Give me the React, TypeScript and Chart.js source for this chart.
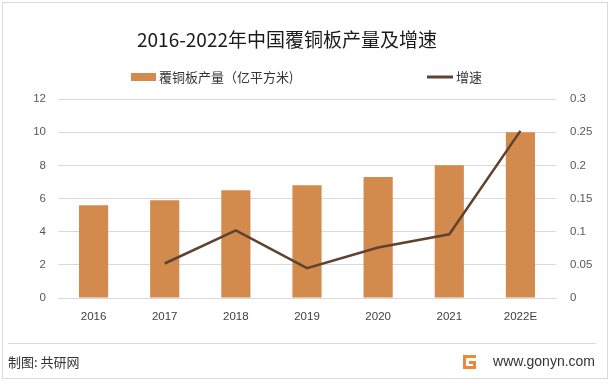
import React, { useEffect, useRef } from "react";
import { Chart, registerables } from "chart.js";

Chart.register(...registerables);

const categories = ["2016", "2017", "2018", "2019", "2020", "2021", "2022E"];
const production = [5.6, 5.9, 6.5, 6.8, 7.3, 8.0, 10.0];
const growth = [null, 0.052, 0.102, 0.045, 0.076, 0.096, 0.252];
const leftTicks = [0, 2, 4, 6, 8, 10, 12];
const rightTicks = [0, 0.05, 0.1, 0.15, 0.2, 0.25, 0.3];

const titleText = "2016-2022年中国覆铜板产量及增速";
const barLabel = "覆铜板产量（亿平方米)";
const lineLabel = "增速";
const footerLeft = "制图: 共研网";
const footerRight = "www.gonyn.com";

const BAR_COLOR = "#d38b4d";
const LINE_COLOR = "#5e4330";
const CJK = '"Noto Sans CJK SC", "Noto Sans", sans-serif';

const decor = {
  id: "decor",
  beforeDraw(chart: any) {
    const ctx = chart.ctx;
    ctx.save();
    ctx.fillStyle = "#ffffff";
    ctx.fillRect(0, 0, chart.width, chart.height);
    ctx.strokeStyle = "#d9d9d9";
    ctx.lineWidth = 1;
    ctx.strokeRect(2.5, 2.5, 605, 376);
    ctx.restore();
  },
  afterDraw(chart: any) {
    const ctx = chart.ctx;
    ctx.save();
    // title
    ctx.fillStyle = "#1a1a1a";
    ctx.font = `19px ${CJK}`;
    ctx.textAlign = "center";
    ctx.textBaseline = "middle";
    ctx.fillText(titleText, 287, 40);
    // legend
    ctx.font = `13px ${CJK}`;
    ctx.textAlign = "left";
    ctx.fillStyle = BAR_COLOR;
    ctx.fillRect(131, 73, 25, 8);
    ctx.fillStyle = "#333333";
    ctx.fillText(barLabel, 159, 77);
    ctx.strokeStyle = LINE_COLOR;
    ctx.lineWidth = 3;
    ctx.beginPath();
    ctx.moveTo(427, 77);
    ctx.lineTo(453, 77);
    ctx.stroke();
    ctx.fillText(lineLabel, 456, 77);
    // separator
    ctx.strokeStyle = "#d9d9d9";
    ctx.lineWidth = 1;
    ctx.beginPath();
    ctx.moveTo(8, 343.5);
    ctx.lineTo(596, 343.5);
    ctx.stroke();
    // footer
    ctx.fillStyle = "#333333";
    ctx.font = `13px ${CJK}`;
    ctx.fillText(footerLeft, 8, 362);
    ctx.font = `14px "Liberation Sans", sans-serif`;
    ctx.textAlign = "right";
    ctx.fillText(footerRight, 595, 362);
    // logo
    ctx.fillStyle = "#f0883a";
    ctx.fillRect(463, 355, 13, 3);
    ctx.fillRect(463, 355, 3, 14);
    ctx.fillRect(463, 366, 13, 3);
    ctx.fillRect(473, 361, 3, 8);
    ctx.fillRect(469, 361, 7, 3);
    ctx.restore();
  },
};

export default function App() {
  const ref = useRef<HTMLCanvasElement | null>(null);
  useEffect(() => {
    document.body.style.margin = "0";
    const chart = new Chart(ref.current as HTMLCanvasElement, {
      type: "bar",
      data: {
        labels: categories,
        datasets: [
          {
            type: "line",
            label: lineLabel,
            data: growth as any,
            yAxisID: "y1",
            borderColor: LINE_COLOR,
            borderWidth: 2.5,
            pointRadius: 0,
            tension: 0,
            order: 0,
          } as any,
          {
            type: "bar",
            label: barLabel,
            data: production,
            yAxisID: "y",
            backgroundColor: BAR_COLOR,
            categoryPercentage: 1,
            barPercentage: 0.41,
            order: 1,
          },
        ],
      },
      options: {
        responsive: false,
        animation: false,
        layout: { padding: { top: 99, left: 0, right: 0, bottom: 0 } },
        plugins: { legend: { display: false }, tooltip: { enabled: false }, title: { display: false } },
        scales: {
          x: {
            grid: { display: false, drawTicks: false },
            border: { display: true, color: "#d9d9d9" },
            ticks: { padding: 12, color: "#404040", font: { size: 11.5, family: '"Liberation Sans", sans-serif' } },
            afterFit(s: any) { s.height = 87; },
          },
          y: {
            position: "left",
            min: 0,
            max: 12,
            afterBuildTicks(s: any) { s.ticks = leftTicks.map((v) => ({ value: v })); },
            grid: { color: "#d9d9d9", drawTicks: false },
            border: { display: false },
            ticks: { padding: 12, color: "#595959", font: { size: 11.5, family: '"Liberation Sans", sans-serif' } },
            afterFit(s: any) { s.width = 58; },
          },
          y1: {
            position: "right",
            min: 0,
            max: 0.3,
            afterBuildTicks(s: any) { s.ticks = rightTicks.map((v) => ({ value: v })); },
            grid: { display: false, drawTicks: false },
            border: { display: false },
            ticks: {
              padding: 14,
              color: "#595959",
              font: { size: 11.5, family: '"Liberation Sans", sans-serif' },
              callback: (v: any) => String(Number(v)),
            },
            afterFit(s: any) { s.width = 55; },
          },
        },
      },
      plugins: [decor],
    });
    return () => chart.destroy();
  }, []);
  return <canvas ref={ref} width={611} height={385} style={{ display: "block" }} />;
}
